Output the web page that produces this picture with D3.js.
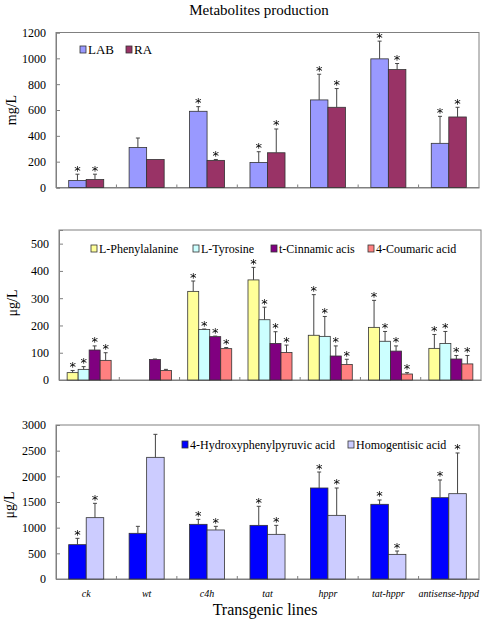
<!DOCTYPE html>
<html><head><meta charset="utf-8">
<script src="https://cdn.jsdelivr.net/npm/d3@7"></script>
<style>body{margin:0;background:#fff}svg{display:block}text{font-family:"Liberation Serif","Times New Roman",serif;fill:#000}</style>
</head><body>
<script>
const categories = ["ck","wt","c4h","tat","hppr","tat-hppr","antisense-hppd"];

// Panel 1 (mg/L)
const seriesTop = ["LAB","RA"];
const LAB = [54,310,590,194,678,996,342];
const LAB_err = [103,383,626,277,877,1133,551];
const RA = [62,217,210,269,621,913,546];
const RA_err = [103,217,217,453,766,960,621];
const sigTop = [[1,1],[0,0],[1,1],[1,1],[1,1],[1,1],[1,1]];
const ticksTop = [0,200,400,600,800,1000,1200];

// Panel 2 (µg/L)
const seriesMid = ["L-Phenylalanine","L-Tyrosine","t-Cinnamic acis","4-Coumaric acid"];
const Phe = [27,0,325,367,164,193,116];
const Phe_err = [35,0,363,413,313,292,167];
const Tyr = [39,0,185,221,160,142,134];
const Tyr_err = [49,0,187,267,233,178,178];
const Cin = [110,75,159,134,88,106,77];
const Cin_err = [125,77,161,177,125,125,90];
const Coum = [72,35,115,101,57,22,59];
const Coum_err = [100,39,119,128,76,27,90];
const sigMid = [[1,1,1,1],[0,0,0,0],[1,1,1,1],[1,1,1,1],[1,1,1,1],[1,1,1,1],[1,1,1,1]];
const ticksMid = [0,100,200,300,400,500];

// Panel 3 (µg/L)
const seriesBot = ["4-Hydroxyphenylpyruvic acid","Homogentisic acid"];
const HPP = [669,890,1065,1045,1773,1455,1584];
const HPP_err = [792,1026,1162,1416,2084,1539,1929];
const HGA = [1195,2370,955,870,1240,480,1662];
const HGA_err = [1474,2818,1026,1045,1773,545,2455];
const sigBot = [[1,1],[0,0],[1,1],[1,1],[1,1],[1,1],[1,1]];
const ticksBot = [0,500,1000,1500,2000,2500,3000];

const W = 484, H = 621;
const svg = d3.select("body").append("svg").attr("width", W).attr("height", H);
svg.append("defs").append("filter").attr("id","gray")
  .append("feColorMatrix").attr("type","saturate").attr("values","0");

svg.append("text").attr("x", 259).attr("y", 15).attr("text-anchor","middle")
  .style("font-size","15px").text("Metabolites production");

function panel(cfg){
  const g = svg.append("g");
  const x = d3.scaleBand().domain(categories).range([cfg.left, cfg.right]).padding(0);
  const y = d3.scaleLinear().domain([0, cfg.max]).range([cfg.bottom, cfg.top]);
  g.append("rect").attr("x", cfg.left).attr("y", cfg.top)
    .attr("width", cfg.right-cfg.left).attr("height", cfg.bottom-cfg.top)
    .attr("fill","none").attr("stroke","#808080").attr("stroke-width",1);
  const ya = d3.axisLeft(y).tickValues(cfg.ticks).tickSize(-4).tickPadding(10).tickFormat(d3.format("d"));
  const yg = g.append("g").attr("transform",`translate(${cfg.left},0)`).call(ya);
  yg.select(".domain").attr("stroke","#808080");
  yg.selectAll(".tick line").attr("stroke","#808080");
  yg.selectAll(".tick text").style("font-size","12px").style("font-family","'Liberation Serif',serif");
  const xa = d3.axisBottom(x).tickSize(0).tickFormat(cfg.showX ? d=>d : ()=> "");
  const xg = g.append("g").attr("transform",`translate(0,${cfg.bottom})`).call(xa);
  xg.select(".domain").attr("stroke","#808080");
  xg.selectAll(".tick text").attr("dy","15px").style("font-size","10px").style("font-style","italic")
    .style("font-family","'Liberation Serif',serif");
  g.selectAll("line.sep").data(categories.slice(1)).join("line").attr("class","sep")
    .attr("x1", d=>x(d)).attr("x2", d=>x(d)).attr("y1", cfg.bottom).attr("y2", cfg.bottom-3)
    .attr("stroke","#808080");
  g.append("text").attr("transform",`translate(${cfg.ylx},${cfg.yly}) rotate(-90)`)
    .attr("text-anchor","middle").style("font-size","14px").text(cfg.ylabel);
  const n = cfg.series.length;
  const gw = x.bandwidth()*cfg.frac;
  const inner = d3.scaleBand().domain(d3.range(n)).range([0, gw]).padding(0);
  cfg.series.forEach((s, si) => {
    const sg = g.append("g");
    const data = categories.map((c,i)=>({c, v:cfg.vals[si][i], e:cfg.errs[si][i], sig:cfg.sig[i][si]}));
    const xpos = d => x(d.c) + (x.bandwidth()-gw)/2 + inner(si);
    sg.selectAll("rect").data(data.filter(d=>d.v>0)).join("rect")
      .attr("x", xpos).attr("width", inner.bandwidth())
      .attr("y", d=>y(d.v)).attr("height", d=>y(0)-y(d.v))
      .attr("fill", cfg.colors[si]).attr("stroke","#333").attr("stroke-width",0.8);
    const cx = d => xpos(d) + inner.bandwidth()/2;
    const ed = data.filter(d=>d.e>d.v);
    sg.selectAll("line.ev").data(ed).join("line").attr("class","ev")
      .attr("x1",cx).attr("x2",cx).attr("y1",d=>y(d.v)).attr("y2",d=>y(d.e))
      .attr("stroke","#444").attr("stroke-width",1);
    sg.selectAll("line.ec").data(ed).join("line").attr("class","ec")
      .attr("x1",d=>cx(d)-2).attr("x2",d=>cx(d)+2).attr("y1",d=>y(d.e)).attr("y2",d=>y(d.e))
      .attr("stroke","#444").attr("stroke-width",1);
    sg.append("g").attr("filter","url(#gray)")
      .selectAll("text.st").data(data.filter(d=>d.sig)).join("text").attr("class","st")
      .attr("x",cx).attr("y",d=>y(Math.max(d.e,d.v))+0.5).attr("text-anchor","middle")
      .style("font-size","13px").style("font-family","'DejaVu Sans',sans-serif").attr("fill","#222").text("*");
  });
  cfg.legend.forEach((lx, si) => {
    g.append("rect").attr("x", lx).attr("y", cfg.legY-4).attr("width",6).attr("height",7)
      .attr("fill", cfg.colors[si]).attr("stroke","#333").attr("stroke-width",0.8);
    g.append("text").attr("x", lx+8).attr("y", cfg.legY+4).style("font-size", cfg.legFont)
      .text(cfg.series[si]);
  });
}

panel({left:56, right:479, top:32.5, bottom:187.5, max:1200, ticks:ticksTop, series:seriesTop,
  vals:[LAB,RA], errs:[LAB_err,RA_err], sig:sigTop, colors:["#9999ff","#993366"], frac:0.58,
  ylabel:"mg/L", ylx:16, yly:110, legend:[80,126], legY:50, legFont:"13px", showX:false});

panel({left:59, right:481, top:230, bottom:380, max:550, ticks:ticksMid, series:seriesMid,
  vals:[Phe,Tyr,Cin,Coum], errs:[Phe_err,Tyr_err,Cin_err,Coum_err], sig:sigMid,
  colors:["#ffff99","#ccffff","#800080","#ff8080"], frac:0.73,
  ylabel:"μg/L", ylx:17, yly:303, legend:[91,193,271,368], legY:249, legFont:"12px", showX:false});

panel({left:56, right:479, top:425, bottom:579, max:3000, ticks:ticksBot, series:seriesBot,
  vals:[HPP,HGA], errs:[HPP_err,HGA_err], sig:sigBot, colors:["#0000ff","#ccccff"], frac:0.58,
  ylabel:"μg/L", ylx:14, yly:505, legend:[182,348], legY:445, legFont:"12px", showX:true});

svg.append("text").attr("x", 265).attr("y", 615).attr("text-anchor","middle")
  .style("font-size","16px").text("Transgenic lines");
</script>
</body></html>
